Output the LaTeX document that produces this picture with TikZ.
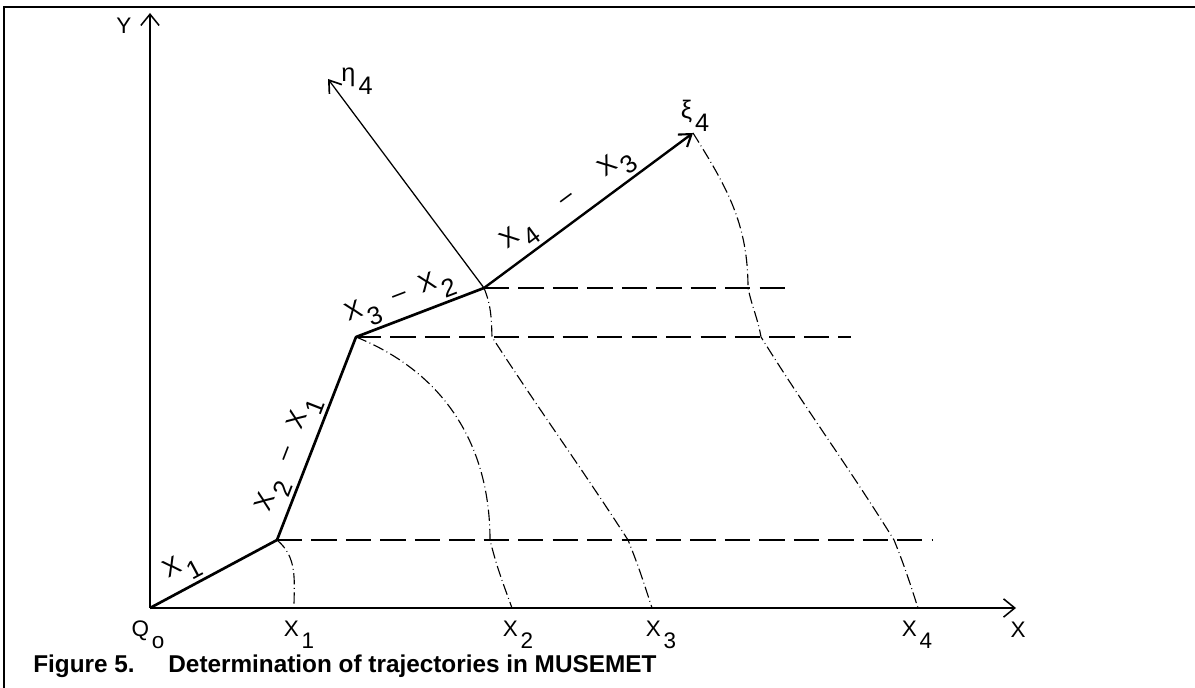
\documentclass[tikz,border=0pt]{standalone}
\usepackage{fontspec}
\setmainfont{Liberation Sans}
\usetikzlibrary{arrows.meta}

\newcommand{\lowsub}[1]{\kern0.12em\raisebox{-0.5em}{#1}}

\begin{document}
\begin{tikzpicture}[
    x=0.025cm, y=0.025cm,
    frame/.style={line width=1.2pt},
    axis/.style={line width=1.1pt, -{Straight Barb[length=8pt, width=13pt, line width=1.1pt]}},
    trail/.style={line width=1.9pt, line join=round},
    vec/.style={line width=1.7pt, -{Straight Barb[length=8pt, width=11pt, line width=1.5pt]}},
    normal/.style={line width=0.9pt, -{Straight Barb[length=8pt, width=11pt, line width=1.2pt]}},
    hline/.style={line width=0.9pt, dash pattern=on 18pt off 6.5pt},
    swing/.style={line width=0.8pt, dash pattern=on 8pt off 2.5pt on 0.6pt off 2.5pt},
    lbl/.style={font=\fontsize{16}{16}\selectfont, inner sep=0pt},
    hand/.style={font=\fontsize{18}{18}\selectfont, sloped, inner sep=2pt}
]
\useasboundingbox (0,0) rectangle (1195,688);

% ================= FRAME =================
\draw[frame] (4,0) -- (4,681) -- (1195,681);

% ================= POINTS =================
\coordinate (Q0) at (150,80);
\coordinate (P1) at (277,148);
\coordinate (P2) at (356,351);
\coordinate (P3) at (484,400);
\coordinate (Xi) at (693,555);
\coordinate (Eta) at (328,609);
\coordinate (Ytip) at (150,675);
\coordinate (Xtip) at (1016,80);

\coordinate (X1) at (294,80);
\coordinate (X2) at (512,80);
\coordinate (X3) at (652,80);
\coordinate (X4) at (918,80);

\coordinate (K2) at (490,148);
\coordinate (K3a) at (492,351);
\coordinate (K3b) at (628,148);
\coordinate (K4a) at (748,400);
\coordinate (K4b) at (761,351);
\coordinate (K4c) at (894,148);

\coordinate (E1) at (933,148);
\coordinate (E2) at (851,351);
\coordinate (E3) at (790,400);

% ================= AXES =================
\draw[axis] (Q0) -- (Ytip);
\draw[axis] (Q0) -- (Xtip);

\node[lbl] (ylab) at (124,662) {Y};
\node[lbl] (xlab) at (1018,58) {X};
\node[lbl, anchor=north] (q0lab) at (148,67) {Q\lowsub{o}};
\node[lbl, anchor=north] (x1lab) at (299,67) {X\lowsub{1}};
\node[lbl, anchor=north] (x2lab) at (518,67) {X\lowsub{2}};
\node[lbl, anchor=north] (x3lab) at (661,67) {X\lowsub{3}};
\node[lbl, anchor=north] (x4lab) at (917,67) {X\lowsub{4}};

% ================= HORIZONTALS =================
\draw[hline] (P1) -- (E1);
\draw[hline] (P2) -- (E2);
\draw[hline] (P3) -- (E3);

% ================= SWINGS =================
\draw[swing] (P1) to[out=-40, in=90] (X1);
\draw[swing] (P2) to[out=-22, in=90] (K2) to[out=-76, in=110] (X2);
\draw[swing] (P3) to[out=-68, in=92] (K3a) to[out=-57, in=123] (K3b) to[out=-68, in=108] (X3);
\draw[swing] (Xi) to[out=-58, in=90] (K4a) to[out=-78, in=100] (K4b)
    to[out=-58, in=122] (K4c) to[out=-68, in=108] (X4);

% ================= TRAJECTORY =================
\draw[trail] (Q0) -- node[hand, above, pos=0.33] {X\lowsub{1}}
    (P1) -- node[hand, above, pos=0.385] {X\lowsub{2}\hspace{14pt}--\hspace{14pt}X\lowsub{1}}
    (P2) -- node[hand, above, pos=0.40] {X\lowsub{3}\hspace{11pt}--\hspace{11pt}X\lowsub{2}}
    (P3);
\draw[vec] (P3) -- node[hand, above, pos=0.46] {X\lowsub{4}\hspace{26pt}--\hspace{26pt}X\lowsub{3}} (Xi);
\node[lbl, font=\fontsize{18}{18}\selectfont] (xilab) at (695,572) {ξ\lowsub{4}};
\draw[normal] (P3) -- (Eta);
\node[lbl, font=\fontsize{18}{18}\selectfont] (etalab) at (357,607) {η\lowsub{4}};

% ================= CAPTION =================
\node[anchor=base west, inner sep=0pt, font=\bfseries\fontsize{17.3}{20}\selectfont] (caption) at (33,15)
    {Figure 5.\hspace{24pt}Determination of trajectories in MUSEMET};

\end{tikzpicture}
\end{document}
